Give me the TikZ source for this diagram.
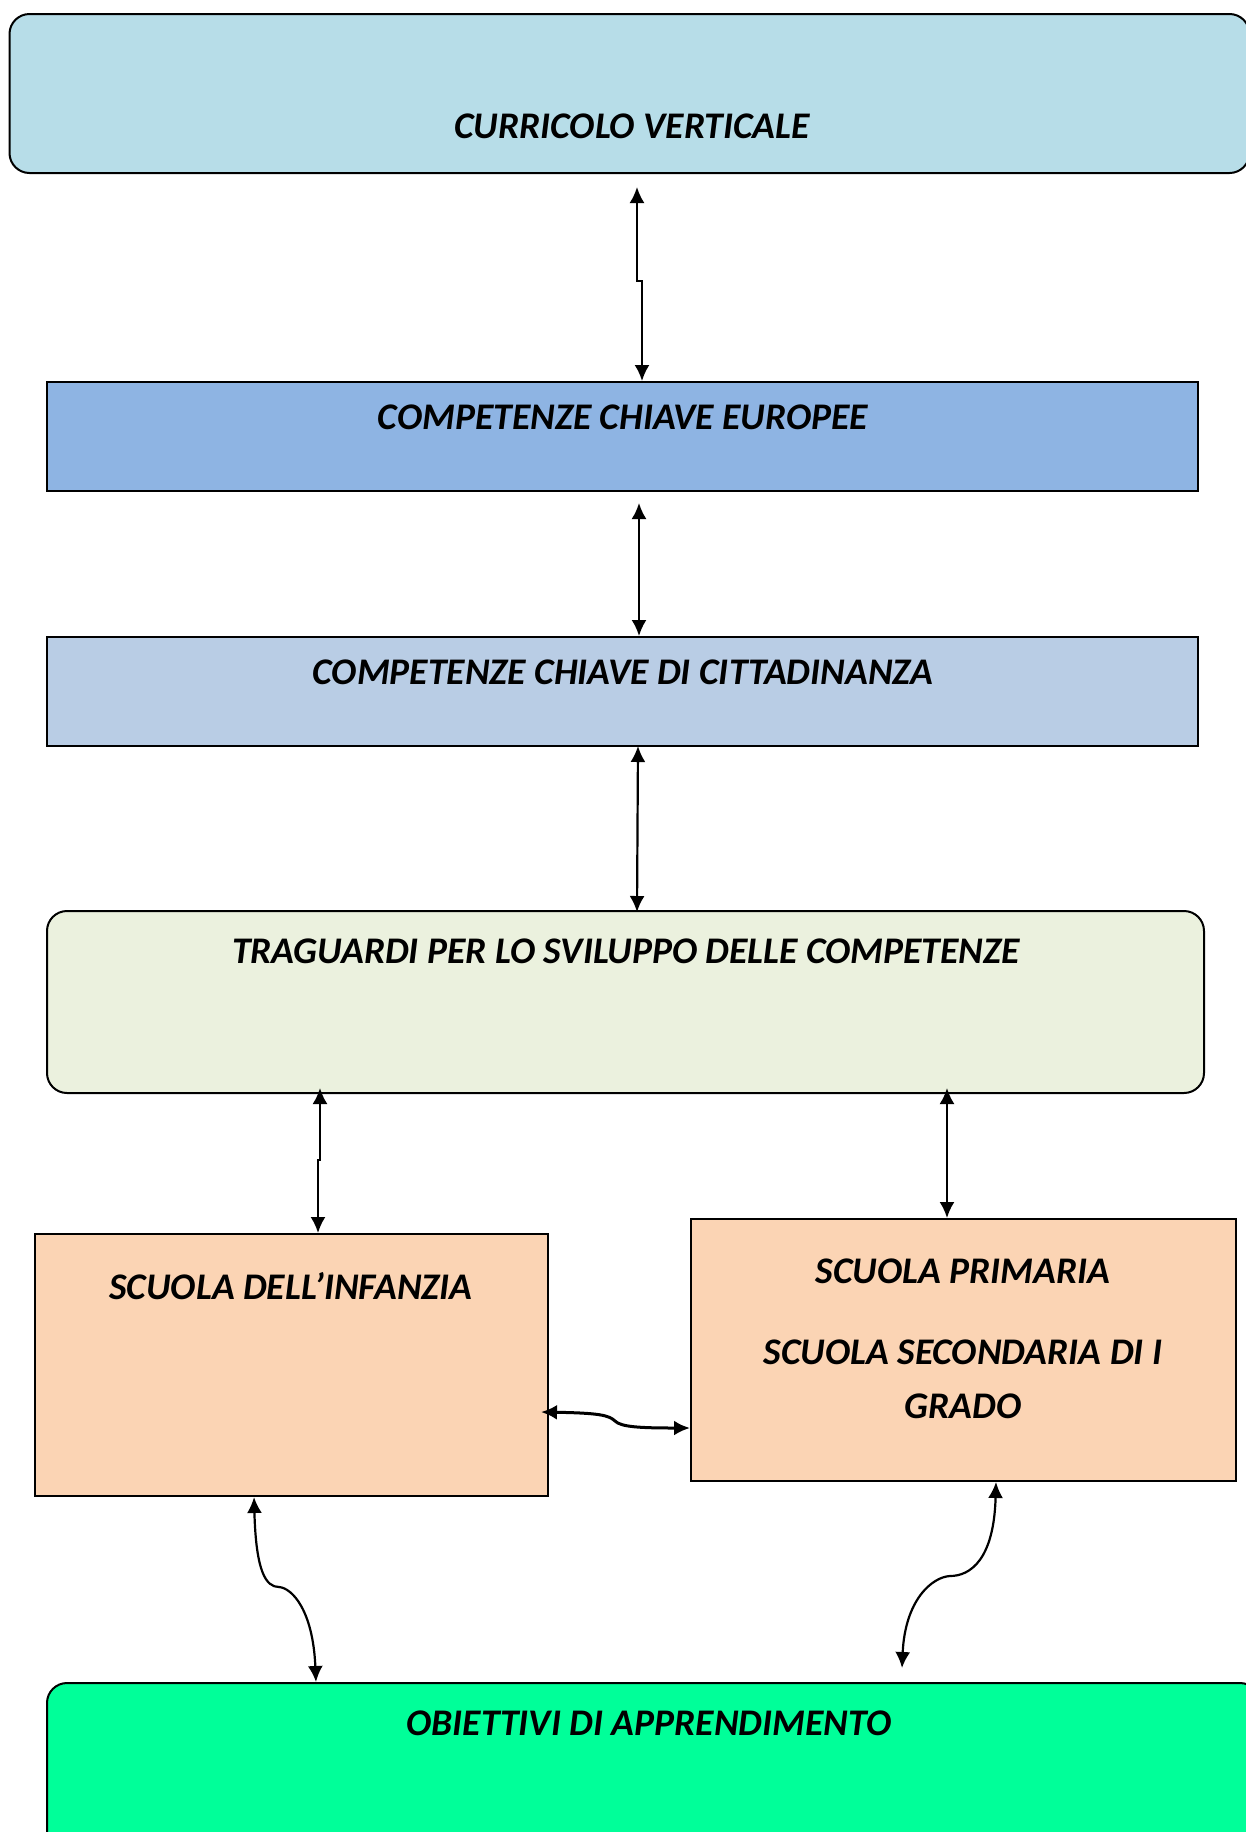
\documentclass[tikz,border=0pt]{standalone}
\usepackage{fontspec}
\setmainfont{Carlito}
\usetikzlibrary{arrows.meta}
\definecolor{cvfill}{HTML}{B7DDE8}
\definecolor{cefill}{HTML}{8EB4E3}
\definecolor{ccfill}{HTML}{B9CDE5}
\definecolor{trfill}{HTML}{EBF1DE}
\definecolor{scfill}{HTML}{FBD4B4}
\definecolor{obfill}{HTML}{00FF99}
\tikzset{
  box/.style={draw=black, line width=1pt, inner sep=0pt},
  roundbox/.style={box, rounded corners=10pt},
  lbl/.style={font=\fontsize{18.8}{22}\selectfont\bfseries\itshape, text=black, inner sep=0pt, align=center},
  tip/.style={Latex[length=8pt,width=7.5pt]},
  link/.style={line width=1.1pt, {Latex[length=8pt,width=7.5pt]}-{Latex[length=8pt,width=7.5pt]}},
  thicklink/.style={line width=1.5pt, {Latex[length=8pt,width=7.5pt]}-{Latex[length=8pt,width=7.5pt]}}
}
\begin{document}
\begin{tikzpicture}[x=0.5pt,y=-0.5pt]
\useasboundingbox (0,0) rectangle (1246,1832);
\clip (0,0) rectangle (1246,1832);
\fill[white] (0,0) rectangle (1246,1832);

% boxes
\node[roundbox, fill=cvfill, minimum width=620pt, minimum height=79.5pt] (cv) at (629.5,93.5) {};
\node[box, fill=cefill, minimum width=575.5pt, minimum height=54.5pt] (ce) at (622.5,436.5) {};
\node[box, fill=ccfill, minimum width=575.5pt, minimum height=54.5pt] (cc) at (622.5,691.5) {};
\node[roundbox, fill=trfill, minimum width=578.5pt, minimum height=91pt] (tr) at (625.5,1002) {};
\node[box, fill=scfill, minimum width=256.5pt, minimum height=131pt] (si) at (291.5,1365) {};
\node[box, fill=scfill, minimum width=272.5pt, minimum height=131pt] (sp) at (963.5,1350) {};
\node[roundbox, fill=obfill, minimum width=606.5pt, minimum height=83.5pt] (ob) at (653.5,1766.5) {};

% labels
\node[lbl] (cvt) at (632,126) {CURRICOLO VERTICALE};
\node[lbl] (cet) at (623,417) {COMPETENZE CHIAVE EUROPEE};
\node[lbl] (cct) at (623,672) {COMPETENZE CHIAVE DI CITTADINANZA};
\node[lbl] (trt) at (626,951) {TRAGUARDI PER LO SVILUPPO DELLE COMPETENZE};
\node[lbl] (sit) at (291,1286) {SCUOLA DELL’INFANZIA};
\node[lbl] (spt1) at (963,1271) {SCUOLA PRIMARIA};
\node[lbl] (spt2) at (963,1352) {SCUOLA SECONDARIA DI I};
\node[lbl] (spt3) at (963,1406) {GRADO};
\node[lbl] (obt) at (649,1723) {OBIETTIVI DI APPRENDIMENTO};

% connector end points
\coordinate (a1s) at (637,187);
\coordinate (a1x) at (642,0);
\coordinate (a2s) at (639,503);
\coordinate (a4s) at (320,1088);
\coordinate (a4x) at (318,0);
\coordinate (a5s) at (947,1088);
\coordinate (a6y) at (0,1428);
\coordinate (a7x) at (316,0);
\coordinate (a8e) at (902,1668);

% connectors
\draw[link] (a1s) -- (637,281) -- (642,281) -- (a1x |- ce.north);
\draw[link] (a2s) -- (a2s |- cc.north);
\draw[link] (638,746) coordinate (a3s) -- (637,912) coordinate (a3e);
\draw[link] (a4s) -- (320,1160) -- (318,1160) -- (a4x |- si.north);
\draw[link] (a5s) -- (a5s |- sp.north);
\draw[thicklink] (541,1412) coordinate (a6s) .. controls (598,1413) and (609,1415) .. (615,1421)
  .. controls (621,1427) and (640,1428) .. (sp.west |- a6y);
\draw[link] (254,1497) coordinate (a7s) .. controls (256,1572) and (266,1587) .. (279,1587)
  .. controls (292,1588) and (313,1610) .. (a7x |- ob.north);
\draw[link] (996,1482) coordinate (a8s) .. controls (994,1560) and (970,1576) .. (950,1576)
  .. controls (932,1577) and (905,1600) .. (a8e);
\end{tikzpicture}
\end{document}
